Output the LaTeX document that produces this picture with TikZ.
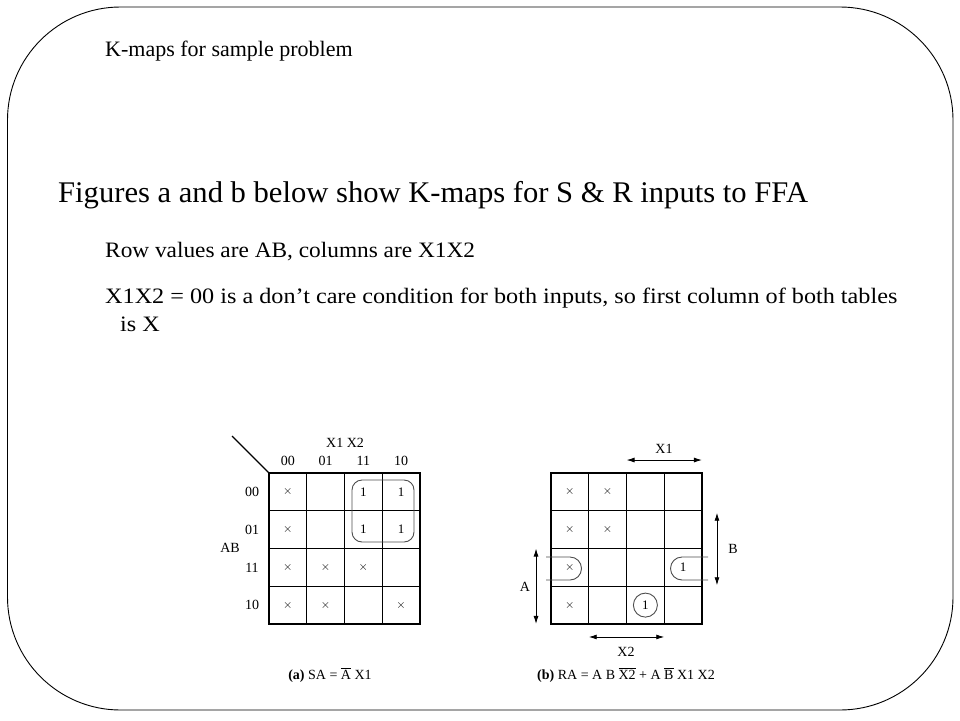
\documentclass[tikz,border=0pt]{standalone}
\usepackage{fontspec}
\setmainfont{Liberation Serif}
\usetikzlibrary{arrows.meta}
\newcommand\dc{$\times$}
\tikzset{
  % one square of a K-map
  cell/.style={rectangle,draw,line width=1.2pt,minimum size=37.75pt,inner sep=0pt,outer sep=0pt,font=\fontsize{13}{15}\selectfont},
  % labels round the maps
  klabel/.style={inner sep=0pt,font=\fontsize{14}{16}\selectfont},
  % double arrow beside map b
  dimarrow/.style={{Latex[length=8pt,width=5pt]}-{Latex[length=8pt,width=5pt]},line width=0.9pt},
  % loops round groups of 1s
  loopline/.style={draw=black!70,line width=0.9pt},
  % slide text
  slidetext/.style={anchor=base west,inner sep=0pt,font=\fontsize{22}{26}\selectfont}
}
\begin{document}
\begin{tikzpicture}[x=1pt,y=-1pt]
\useasboundingbox (0,0) rectangle (960,720);
\draw[line width=0.9pt,rounded corners=113pt] (7.5,7) rectangle (953,710);
%%%%%%%%%%%%%%%%%%%%%%%%%%%%%%%%%%%%%%%
\node[slidetext] (title) at (105,56) {K-maps for sample problem};
\node[slidetext,font=\fontsize{30}{36}\selectfont] (lead) at (58,202) {\scalebox{1.02}[1]{Figures a and b below show K-maps for S \& R inputs to FFA}};
\node[slidetext] (rowtxt) at (105,257) {\scalebox{1.06}[1]{Row values are AB, columns are X1X2}};
\node[slidetext] (dctxt) at (105,303) {\scalebox{1.1}[1]{X1X2 = 00 is a don’t care condition for both inputs, so first column of both tables}};
\node[slidetext] (dctxtb) at (120,331) {\scalebox{1.1}[1]{is X}};
%%%%%%%%%%%%%%%%%%%%%%%%%%%%%%%%%%%%%%%
% map (a)
\node[cell] (sa00) at (287.9,491.9) {\dc}; \node[cell] (sa01) at (325.6,491.9) {}; \node[cell] (sa02) at (363.4,491.9) {1}; \node[cell] (sa03) at (401.1,491.9) {1};
\node[cell] (sa10) at (287.9,529.6) {\dc}; \node[cell] (sa11) at (325.6,529.6) {}; \node[cell] (sa12) at (363.4,529.6) {1}; \node[cell] (sa13) at (401.1,529.6) {1};
\node[cell] (sa20) at (287.9,567.4) {\dc}; \node[cell] (sa21) at (325.6,567.4) {\dc}; \node[cell] (sa22) at (363.4,567.4) {\dc}; \node[cell] (sa23) at (401.1,567.4) {};
\node[cell] (sa30) at (287.9,605.1) {\dc}; \node[cell] (sa31) at (325.6,605.1) {\dc}; \node[cell] (sa32) at (363.4,605.1) {}; \node[cell] (sa33) at (401.1,605.1) {\dc};
\coordinate (corner) at (232,436);
\draw[line width=1.1pt] (corner) -- (sa00.north west);
\node[klabel] (savars) at (345,443) {X1 X2};
\node[klabel] (sac0) at (287.9,461) {00}; \node[klabel] (sac1) at (325.6,461) {01};
\node[klabel] (sac2) at (363.4,461) {11}; \node[klabel] (sac3) at (401.1,461) {10};
\node[klabel] (sar0) at (252,491.9) {00}; \node[klabel] (sar1) at (252,529.6) {01};
\node[klabel] (sar2) at (252,567.4) {11}; \node[klabel] (sar3) at (252,605.1) {10};
\node[klabel] (saab) at (230,548) {AB};
\draw[loopline,rounded corners=10pt] (352,480) rectangle (414,542);
\node[klabel] (sacap) at (330,675) {\textbf{(a)} SA = $\overline{\mbox{A}}$ X1};
%%%%%%%%%%%%%%%%%%%%%%%%%%%%%%%%%%%%%%%
% map (b)
\node[cell] (ra00) at (569.9,491.9) {\dc}; \node[cell] (ra01) at (607.6,491.9) {\dc}; \node[cell] (ra02) at (645.4,491.9) {}; \node[cell] (ra03) at (683.1,491.9) {};
\node[cell] (ra10) at (569.9,529.6) {\dc}; \node[cell] (ra11) at (607.6,529.6) {\dc}; \node[cell] (ra12) at (645.4,529.6) {}; \node[cell] (ra13) at (683.1,529.6) {};
\node[cell] (ra20) at (569.9,567.4) {\dc}; \node[cell] (ra21) at (607.6,567.4) {}; \node[cell] (ra22) at (645.4,567.4) {}; \node[cell] (ra23) at (683.1,567.4) {1};
\node[cell] (ra30) at (569.9,605.1) {\dc}; \node[cell] (ra31) at (607.6,605.1) {}; \node[cell] (ra32) at (645.4,605.1) {1}; \node[cell] (ra33) at (683.1,605.1) {};
\draw[dimarrow] ([yshift=13pt]ra02.north west) -- ([yshift=13pt]ra03.north east);
\node[klabel] (rax1) at (664,449) {X1};
\draw[dimarrow] ([xshift=15pt,yshift=-2pt]ra13.north east) -- ([xshift=15pt,yshift=1pt]ra23.south east);
\node[klabel] (rab) at (733,549) {B};
\draw[dimarrow] ([xshift=-15pt]ra20.north west) -- ([xshift=-15pt]ra30.south west);
\node[klabel] (raa) at (525,587) {A};
\draw[dimarrow] ([yshift=-13pt]ra31.south west) -- ([yshift=-13pt]ra32.south east);
\node[klabel] (rax2) at (626,652) {X2};
\draw[loopline] (546,557) -- (570,557) arc[start angle=90,end angle=-90,radius=11.5pt] -- (546,580);
\draw[loopline] (708,557) -- (682,557) arc[start angle=90,end angle=270,radius=11.5pt] -- (708,580);
\draw[loopline] (ra32.center) circle[radius=12pt];
\node[klabel] (racap) at (626,675) {\textbf{(b)} RA = A B $\overline{\mbox{X2}}$ + A $\overline{\mbox{B}}$ X1 X2};
\end{tikzpicture}
\end{document}
